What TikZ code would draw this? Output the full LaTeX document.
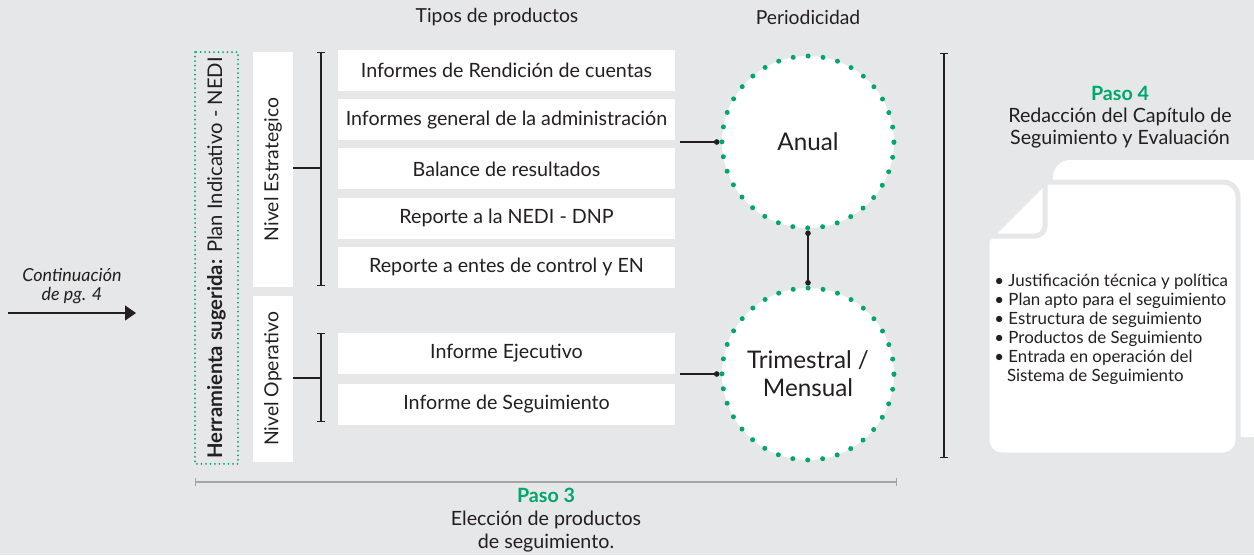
\documentclass[tikz,border=0pt]{standalone}
\usepackage{fontspec}
\setmainfont{Lato}
\usepackage{xcolor}
\usepackage{tikz}
\usetikzlibrary{shapes.geometric, arrows.meta, positioning}
\definecolor{bggray}{RGB}{230,231,232}
\definecolor{dnpgreen}{RGB}{0,166,107}
\definecolor{inkgray}{RGB}{35,31,32}
\definecolor{rulegray}{RGB}{165,165,165}
\tikzstyle{product} = [rectangle, fill=white, minimum width=6.74cm, minimum height=0.82cm, inner sep=0pt, align=center, font=\fontsize{11.2}{13}\selectfont]
\tikzstyle{level} = [rectangle, fill=white, rotate=90, minimum height=0.8cm, inner sep=0pt, font=\fontsize{11}{13}\selectfont]
\tikzstyle{tool} = [rectangle, rotate=90, draw=dnpgreen, line width=0.04cm, dash pattern=on 0pt off 0.09cm, line cap=round, minimum width=8.24cm, minimum height=0.86cm, inner sep=0pt, font=\fontsize{11.5}{13}\selectfont]
\tikzstyle{period} = [circle, fill=white, draw=dnpgreen, line width=0.1cm, dash pattern=on 0pt off 0.3cm, line cap=round, minimum size=3.44cm, inner sep=0pt, align=center, font=\fontsize{13.8}{16}\selectfont]
\tikzstyle{link} = [{Circle[length=0.11cm]}-{Circle[length=0.11cm]}, line width=0.7pt, draw=inkgray]
\tikzstyle{linkend} = [-{Circle[length=0.11cm]}, line width=0.7pt, draw=inkgray]
\tikzstyle{bracket} = [{Bar[width=0.16cm]}-{Bar[width=0.16cm]}, line width=0.7pt, draw=inkgray]
\tikzstyle{arrow} = [-{Triangle[length=0.22cm, width=0.3cm]}, line width=0.7pt, draw=inkgray]

\begin{document}
\begin{tikzpicture}[x=0.02cm, y=-0.02cm, node distance=0.15cm, text=inkgray]
\useasboundingbox (0,0) rectangle (1254,555);
\clip (0,0) rectangle (1254,555);
\fill[bggray] (0,0) rectangle (1254,555);

% headers
\node[font=\fontsize{11}{13}\selectfont] (tipos) at (497,17) {Tipos de productos};
\node[font=\fontsize{11}{13}\selectfont] (periodo) at (808,17) {Periodicidad};

% continuation arrow
\node[align=center, font=\fontsize{10.2}{10.4}\selectfont\itshape] (cont) at (72,286) {Continuación\\de pg. 4};
\coordinate (contstart) at (8,313);
\coordinate (contend) at (136,313);
\draw[arrow] (contstart) -- (contend);

% tool and levels
\node[tool] (tool) at (216.5,258) {\textbf{Herramienta sugerida:} Plan Indicativo - NEDI};
\node[level, minimum width=4.7cm] (estr) at (273,169.5) {Nivel Estrategico};
\node[level, minimum width=3.32cm] (oper) at (273,379) {Nivel Operativo};

% products
\node[product] (prod1) at (506.5,70.5) {Informes de Rendición de cuentas};
\node[product, below=of prod1] (prod2) {Informes general de la administración};
\node[product, below=of prod2] (prod3) {Balance de resultados};
\node[product, below=of prod3] (prod4) {Reporte a la NEDI - DNP};
\node[product, below=of prod4] (prod5) {Reporte a entes de control y EN};
\node[product] (prod6) at (506.5,353.5) {Informe Ejecutivo};
\node[product, below=0.18cm of prod6] (prod7) {Informe de Seguimiento};

% brackets
\coordinate (estrtop) at (321,52);
\coordinate (estrbot) at (321,286);
\coordinate (estrmid) at (321,168);
\coordinate (opertop) at (321,333);
\coordinate (operbot) at (321,422);
\coordinate (opermid) at (321,378);
\draw[bracket] (estrtop) -- (estrbot);
\draw[line width=0.7pt, inkgray] (estr.south |- estrmid) -- (estrmid);
\draw[bracket] (opertop) -- (operbot);
\draw[line width=0.7pt, inkgray] (oper.south |- opermid) -- (opermid);

% periodicity
\node[period] (anual) at (808,142) {Anual};
\node[period] (trim) at (808,374) {Trimestral /\\Mensual};
\coordinate (anualin) at (680,142);
\coordinate (trimin) at (680,374);
\draw[linkend] (anualin) -- (anual.west);
\draw[linkend] (trimin) -- (trim.west);
\draw[link] (anual.south) -- (trim.north);

% step 3
\coordinate (p3left) at (195,482);
\coordinate (p3right) at (897,482);
\draw[bracket, rulegray] (p3left) -- (p3right);
\node[align=center, font=\fontsize{11.2}{13}\selectfont] (paso3) at (546,520) {\textbf{\color{dnpgreen}Paso 3}\\Elección de productos\\de seguimiento.};

% step 4
\coordinate (p4top) at (944,53);
\coordinate (p4bot) at (944,458);
\draw[bracket] (p4top) -- (p4bot);
\node[align=center, font=\fontsize{11.2}{12.5}\selectfont] (paso4) at (1120,117) {\textbf{\color{dnpgreen}Paso 4}\\Redacción del Capítulo de\\Seguimiento y Evaluación};

% document
\fill[white, rounded corners=0.34cm] (1053,160) rectangle (1275,437);
\filldraw[fill=white, draw=bggray, line width=0.1cm] (987,240) -- (1045,182) [rounded corners=0.3cm] -- (1238,182) -- (1238,455) -- (987,455) [sharp corners] -- cycle;
\draw[bggray, line width=0.1cm, rounded corners=0.2cm] (1045,182) -- (1045,236) -- (987,236);
\node[anchor=north west, align=left, inner sep=0pt, font=\fontsize{9.6}{10.8}\selectfont] (lista) at (994,274) {\textbullet\ Justificación técnica y política\\\textbullet\ Plan apto para el seguimiento\\\textbullet\ Estructura de seguimiento\\\textbullet\ Productos de Seguimiento\\\textbullet\ Entrada en operación del\\\hspace*{0.75em}Sistema de Seguimiento};

\end{tikzpicture}
\end{document}
